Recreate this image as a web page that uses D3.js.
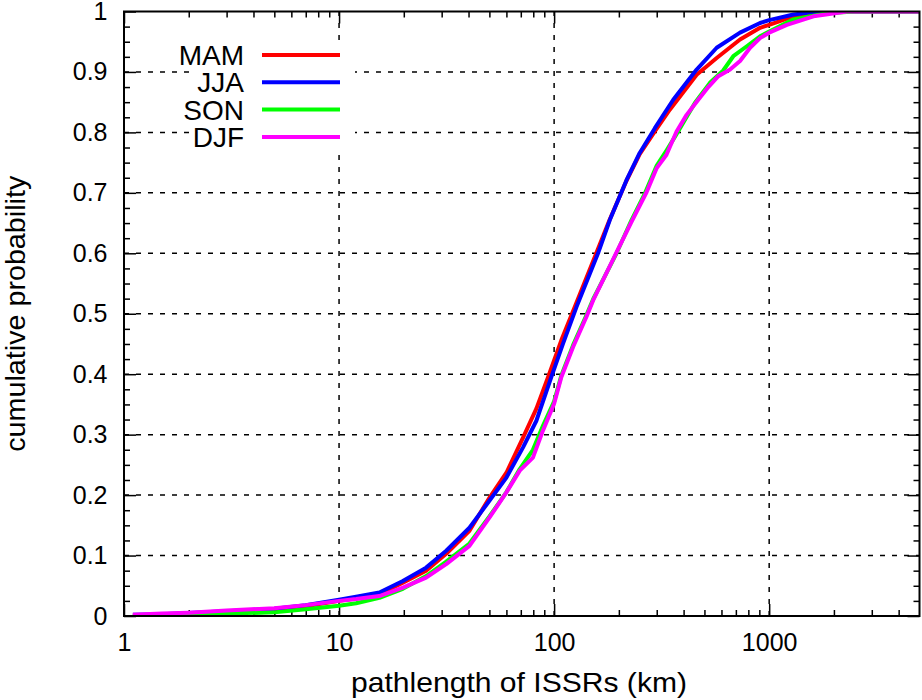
<!DOCTYPE html>
<html lang="en">
<head>
<meta charset="UTF-8">
<title>cumulative probability of ISSR pathlength</title>
<script src="https://cdn.jsdelivr.net/npm/d3@7"></script>
<style>
  body { margin: 0; background: #fff; }
  text { font-family: "Liberation Sans", Arial, sans-serif; fill: #000; }
</style>
</head>
<body>
<script>
// series: pathlength (km) and cumulative probability
var seasons = ["MAM", "JJA", "SON", "DJF"];
var colors = ["#ff0000", "#0000ff", "#00ff00", "#ff00ff"];

var mamLen  = [1.1, 1.5, 2, 3, 5, 7, 10, 12, 15.4, 19.8, 25.4, 31.5, 40.4, 50.1, 60, 71.7, 82.7, 93.7, 108, 124.7, 157, 181, 217, 250, 294, 345, 460, 570, 732, 907, 1000, 1297, 1727, 2500, 5000];
var mamProb = [0.001, 0.002, 0.004, 0.007, 0.011, 0.016, 0.025, 0.029, 0.036, 0.055, 0.075, 0.103, 0.141, 0.196, 0.237, 0.295, 0.343, 0.395, 0.456, 0.511, 0.6, 0.655, 0.72, 0.764, 0.8015, 0.8375, 0.8955, 0.923, 0.9536, 0.973, 0.978, 0.992, 0.999, 1, 1];

var jjaLen  = [1.1, 1.5, 2, 3, 5, 7, 10, 12, 15.4, 19.8, 25.4, 31.5, 40.4, 50.1, 60, 71.7, 82.7, 97, 110, 127, 160, 181.5, 217, 250, 294, 358, 460, 570, 732, 907, 1000, 1297, 1607, 2500, 5000];
var jjaProb = [0.002, 0.003, 0.005, 0.008, 0.012, 0.018, 0.027, 0.032, 0.039, 0.058, 0.08, 0.108, 0.146, 0.191, 0.229, 0.279, 0.323, 0.395, 0.4506, 0.511, 0.6, 0.655, 0.721, 0.766, 0.807, 0.854, 0.904, 0.94, 0.965, 0.981, 0.9857, 0.995, 0.999, 1, 1];

var sonLen  = [1.1, 1.5, 2, 3, 5, 7, 10, 12, 15.4, 19.8, 25.4, 31.5, 40.4, 50.1, 60, 69.2, 79.7, 88.8, 100, 108, 122.5, 141.4, 151.8, 195, 229, 265, 300, 333, 365, 452, 530, 610, 681, 787, 907, 1000, 1297, 1854, 2500, 5000];
var sonProb = [0, 0.001, 0.002, 0.004, 0.006, 0.011, 0.017, 0.021, 0.03, 0.045, 0.066, 0.09, 0.12, 0.165, 0.205, 0.243, 0.275, 0.315, 0.355, 0.398, 0.448, 0.498, 0.524, 0.6, 0.655, 0.7, 0.745, 0.77, 0.793, 0.849, 0.882, 0.902, 0.926, 0.9425, 0.959, 0.967, 0.987, 0.997, 1, 1];

var djfLen  = [1.1, 1.5, 2, 3, 5, 7, 10, 12, 15.4, 19.8, 25.4, 31.5, 40.4, 50.1, 60, 69.2, 79.7, 88.8, 100, 108, 122.5, 141.4, 151.8, 195, 229, 269, 300, 333, 371, 413, 468, 521, 580, 658, 732, 815, 907, 1000, 1208, 1607, 2300, 5000];
var djfProb = [0.002, 0.004, 0.0055, 0.009, 0.013, 0.018, 0.025, 0.028, 0.033, 0.047, 0.0636, 0.0857, 0.116, 0.163, 0.2045, 0.2405, 0.262, 0.307, 0.351, 0.395, 0.445, 0.495, 0.522, 0.6015, 0.652, 0.701, 0.741, 0.763, 0.8015, 0.829, 0.854, 0.875, 0.893, 0.904, 0.918, 0.94, 0.956, 0.965, 0.978, 0.992, 1, 1];

var xMajor = [1, 10, 100, 1000];
var xMinor = [2, 3, 4, 5, 6, 7, 8, 9, 20, 30, 40, 50, 60, 70, 80, 90, 200, 300, 400, 500, 600, 700, 800, 900, 2000, 3000, 4000];
var yMajor = [0, 0.1, 0.2, 0.3, 0.4, 0.5, 0.6, 0.7, 0.8, 0.9, 1];
var yMinor = d3.range(0, 1.0001, 0.025).filter(function (d) { return Math.abs(d * 10 - Math.round(d * 10)) > 1e-6; });

var lens  = [mamLen, jjaLen, sonLen, djfLen];
var probs = [mamProb, jjaProb, sonProb, djfProb];

function draw() {
    var W = 922, H = 700;
    var pad = {left: 124, right: 2.5, top: 11.5, bottom: 84};
    var svg = d3.select("body").append("svg").attr("width", W).attr("height", H);

    var x = d3.scaleLog().domain([1, 5000]).range([pad.left, W - pad.right]);
    var y = d3.scaleLinear().domain([0, 1]).range([H - pad.bottom, pad.top]);
    var x0 = x.range()[0], x1 = x.range()[1], y0 = y.range()[0], y1 = y.range()[1];

    // grid
    var grid = svg.append("g").attr("stroke", "#000").attr("stroke-width", 1.5).attr("stroke-dasharray", "5,7");
    grid.selectAll(".gx").data([10, 100, 1000]).enter().append("line")
        .attr("x1", function (d) { return x(d); }).attr("x2", function (d) { return x(d); })
        .attr("y1", y0).attr("y2", y1);
    grid.selectAll(".gy").data(yMajor.slice(1, -1)).enter().append("line")
        .attr("x1", x0).attr("x2", x1)
        .attr("y1", function (d) { return y(d); }).attr("y2", function (d) { return y(d); });

    // legend backing
    svg.append("rect").attr("x", 189).attr("y", 42).attr("width", 166).attr("height", 108).attr("fill", "#fff");

    // axes, ticks pointing inward
    function ax(axis, tx, ty, fmt, size, padding) {
        var g = svg.append("g").attr("transform", "translate(" + tx + "," + ty + ")")
            .call(axis.tickSize(-size).tickPadding(padding).tickFormat(fmt));
        g.select(".domain").remove();
        g.selectAll("line").attr("stroke-width", 1.5);
        g.selectAll("text").attr("font-size", "25px").attr("font-family", "Liberation Sans, Arial, sans-serif");
        return g;
    }
    var none = function () { return ""; };
    ax(d3.axisBottom(x).tickValues(xMajor), 0, y0, d3.format("d"), 12, 17.5);
    ax(d3.axisBottom(x).tickValues(xMinor), 0, y0, none, 6, 0);
    ax(d3.axisTop(x).tickValues(xMajor), 0, y1, none, 12, 0);
    ax(d3.axisTop(x).tickValues(xMinor), 0, y1, none, 6, 0);
    ax(d3.axisLeft(y).tickValues(yMajor), x0, 0, function (d) { return d3.format("")(+d.toFixed(1)); }, 12, 16.5);
    ax(d3.axisLeft(y).tickValues(yMinor), x0, 0, none, 6, 0);
    ax(d3.axisRight(y).tickValues(yMajor), x1, 0, none, 12, 0);
    ax(d3.axisRight(y).tickValues(yMinor), x1, 0, none, 6, 0);

    // curves
    svg.append("clipPath").attr("id", "clip").append("rect")
        .attr("x", x0).attr("y", y1).attr("width", x1 - x0).attr("height", y0 - y1);
    var line = d3.line().x(function (d) { return x(d[0]); }).y(function (d) { return y(d[1]); });
    seasons.forEach(function (s, i) {
        var pts = lens[i].map(function (v, j) { return [v, probs[i][j]]; });
        svg.append("path").datum(pts).attr("d", line)
            .attr("clip-path", "url(#clip)")
            .attr("fill", "none").attr("stroke", colors[i])
            .attr("stroke-width", 4).attr("stroke-linejoin", "round");
    });

    // frame
    svg.append("rect").attr("x", x0).attr("y", y1).attr("width", x1 - x0).attr("height", y0 - y1)
        .attr("fill", "none").attr("stroke", "#000").attr("stroke-width", 2);

    // legend
    var leg = svg.append("g");
    seasons.forEach(function (s, i) {
        var ly = 55 + i * 27.3;
        leg.append("text").attr("x", 244).attr("y", ly).attr("dy", "0.36em")
            .attr("text-anchor", "end").attr("font-size", "28px").text(s);
        leg.append("line").attr("x1", 262).attr("x2", 340).attr("y1", ly).attr("y2", ly)
            .attr("stroke", colors[i]).attr("stroke-width", 4);
    });

    // axis titles
    svg.append("text").attr("x", 519).attr("y", 691.5).attr("text-anchor", "middle")
        .attr("font-size", "28px").attr("textLength", 336).attr("lengthAdjust", "spacingAndGlyphs")
        .text("pathlength of ISSRs (km)");
    svg.append("text").attr("transform", "translate(24.5," + ((y0 + y1) / 2) + ") rotate(-90)")
        .attr("text-anchor", "middle").attr("font-size", "28px")
        .attr("textLength", 276).attr("lengthAdjust", "spacingAndGlyphs")
        .text("cumulative probability");
}

draw();
</script>
</body>
</html>
